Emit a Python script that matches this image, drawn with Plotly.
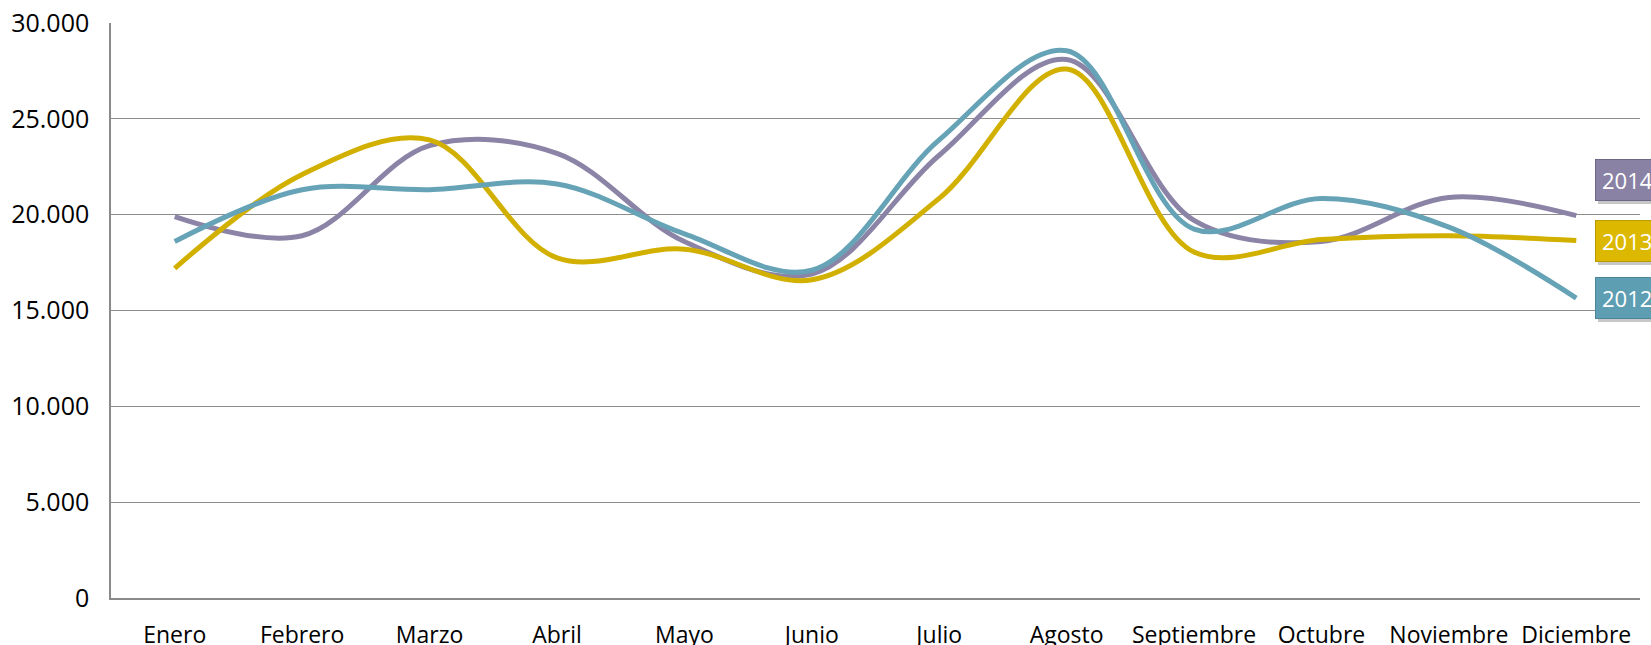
import plotly.graph_objects as go

months = ["Enero", "Febrero", "Marzo", "Abril", "Mayo", "Junio", "Julio",
          "Agosto", "Septiembre", "Octubre", "Noviembre", "Diciembre"]
v2014 = [19900, 18900, 23600, 23200, 18600, 16900, 23100, 28100, 19700, 18600, 20900, 19950]
v2013 = [17200, 22100, 23900, 17750, 18200, 16600, 20850, 27600, 18050, 18700, 18900, 18650]
v2012 = [18600, 21300, 21300, 21600, 19000, 17100, 23900, 28550, 19250, 20850, 19350, 15650]

series = [
    ("2014", v2014, "#8C84A6", 36),
    ("2013", v2013, "#D2B000", 0),
    ("2012", v2012, "#66A3B6", 0),
]
label_bg = {"2014": "#8A82A5", "2013": "#DDB800", "2012": "#5E9EB2"}
label_border = {"2014": "#6E6689", "2013": "#B89A00", "2012": "#4C8599"}

fig = go.Figure()
for name, vals, col, _ in series:
    fig.add_trace(go.Scatter(
        x=months, y=vals, name=name, mode="lines",
        line=dict(color=col, width=5, shape="spline", smoothing=1.0),
    ))

font = "Open Sans, Liberation Sans, sans-serif"
for name, vals, col, ys in series:
    # soft shadow box (no text)
    fig.add_annotation(x=months[-1], y=vals[-1], xref="x", yref="y",
                       text="&nbsp;", showarrow=False, xanchor="left", yanchor="middle",
                       xshift=22, yshift=ys - 4, width=80, height=28,
                       font=dict(family=font, size=22, color="rgba(0,0,0,0)"),
                       bgcolor="rgba(0,0,0,0.22)", borderpad=6, borderwidth=0)
    fig.add_annotation(x=months[-1], y=vals[-1], xref="x", yref="y",
                       text=name, showarrow=False, xanchor="left", yanchor="middle",
                       xshift=19, yshift=ys, width=80, height=28, align="left",
                       font=dict(family=font, size=22, color="white"),
                       bgcolor=label_bg[name], bordercolor=label_border[name],
                       borderwidth=1, borderpad=6)

fig.update_layout(
    width=1651, height=645,
    margin=dict(l=111, r=11, t=23, b=47, autoexpand=False),
    paper_bgcolor="white", plot_bgcolor="white",
    showlegend=False,
    separators=",.",
    font=dict(family=font, size=22, color="black"),
)
fig.update_xaxes(
    type="category", range=[-0.5, len(months) - 0.5], automargin=False,
    showgrid=False, showline=True, linecolor="#8A8A8A", linewidth=1.5,
    ticks="", tickfont=dict(size=23), ticklabelstandoff=16, ticklabeloverflow="allow",
)
fig.update_yaxes(
    range=[0, 30000], dtick=5000, tickformat=",.0f", automargin=False,
    showgrid=True, gridcolor="#8C8C8C", gridwidth=1,
    showline=True, linecolor="#8A8A8A", linewidth=1.5,
    zeroline=False, ticks="", tickfont=dict(size=25), ticklabelstandoff=15,
    ticklabeloverflow="allow",
)
fig.write_html("out.html", config={"displayModeBar": False},
               post_script="document.body.style.margin='0';document.body.style.overflow='hidden';")
